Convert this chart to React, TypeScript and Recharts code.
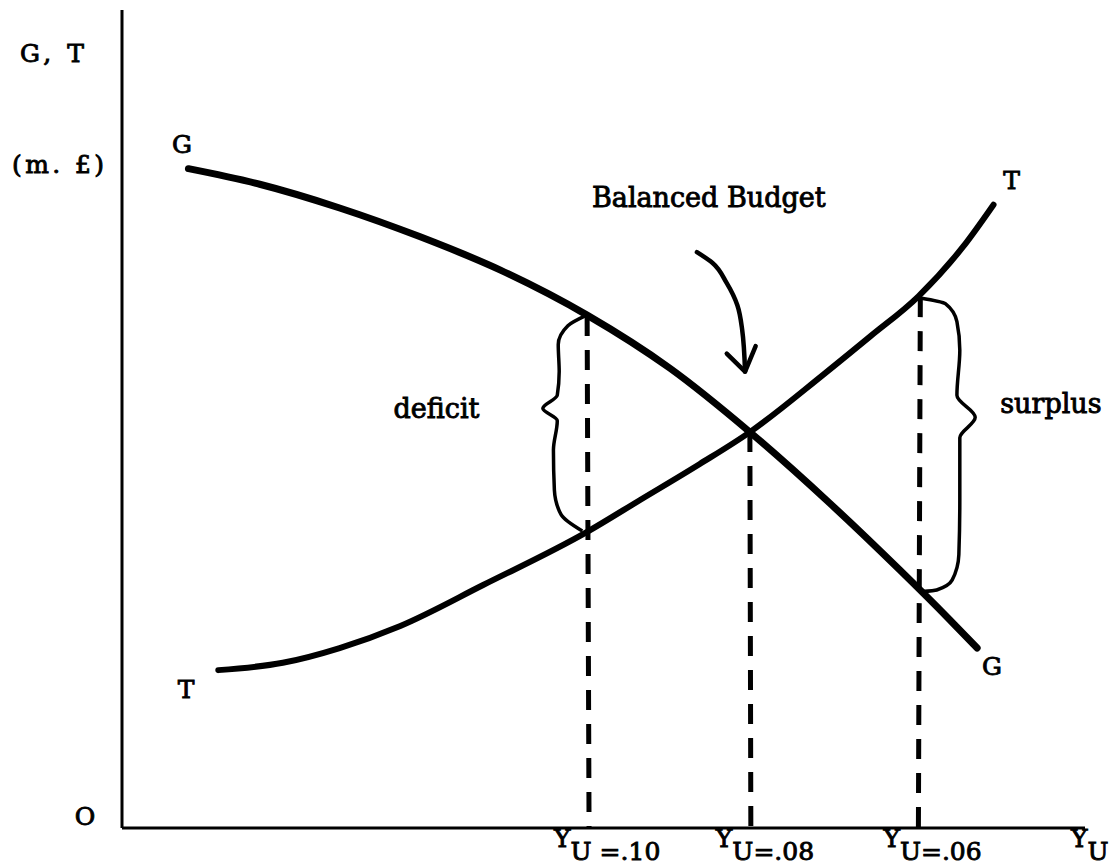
import { ComposedChart, Line, XAxis, YAxis, ReferenceDot } from 'recharts';

const FONT = '"DejaVu Serif", serif';

// G curve: government spending against income (arbitrary units, 0-100)
const gIncome = [6.9, 14.3, 22.6, 30.9, 39.3, 48.3, 56.9, 65.2, 73.5, 80.8, 86.0, 88.8];
const gSpending = [80.6, 78.7, 75.8, 72.3, 68.2, 62.7, 56.2, 48.4, 39.7, 31.5, 25.4, 22.0];

// T curve: tax revenue against income
const tIncome = [10.0, 16.7, 22.6, 28.9, 37.5, 48.3, 53.8, 60.0, 65.2, 72.8, 77.7, 82.7, 87.3, 90.5];
const tRevenue = [19.3, 20.2, 22.0, 24.7, 29.7, 36.2, 40.1, 44.5, 48.4, 55.4, 60.1, 65.0, 71.0, 76.2];

// dashed verticals at the three unemployment rates
const budgetTopX = [48.3, 65.2, 82.9];
const budgetBottomX = [48.5, 65.3, 82.7];
const budgetTopY = [62.6, 48.4, 64.9];
const budgetSubs = ['U =.10', 'U=.08', 'U=.06'];

// braces
const deficitX = [48.1, 46.3, 45.3, 45.4, 45.2, 43.7, 45.2, 44.8, 44.9, 45.6, 47.8];
const deficitY = [62.6, 61.4, 59.1, 55.8, 52.9, 51.3, 49.8, 46.2, 41.3, 38.3, 36.3];
const surplusX = [82.9, 85.5, 86.7, 87.0, 86.7, 88.6, 87.0, 87.0, 86.9, 86.2, 84.6, 83.1];
const surplusY = [64.8, 64.1, 61.9, 58.4, 52.9, 50.2, 47.7, 40.1, 33.4, 30.3, 29.1, 28.9];

// "Balanced Budget" arrow
const arrowX = [59.7, 61.3, 62.8, 63.9, 64.4, 64.7];
const arrowY = [70.4, 69.1, 66.6, 63.9, 60.9, 55.8];
const arrowHeadX = [62.8, 64.7, 65.8];
const arrowHeadY = [58.0, 55.8, 58.9];

const notes = [
  { text: 'G', x: 5.2, y: 82.5, size: 25 },
  { text: 'T', x: 5.8, y: 15.9, size: 25 },
  { text: 'T', x: 91.5, y: 78.1, size: 25 },
  { text: 'G', x: 89.3, y: 18.7, size: 25 },
  { text: 'Balanced Budget', x: 48.8, y: 75.9, size: 27 },
  { text: 'deficit', x: 28.2, y: 50.1, size: 27 },
  { text: 'surplus', x: 91.2, y: 50.7, size: 27 },
];

const pts = (xs: number[], ys: number[]) => xs.map((x, i) => ({ x, y: ys[i] }));

const gData = pts(gIncome, gSpending);
const tData = pts(tIncome, tRevenue);
const budgetLines = budgetTopX.map((x, i) => [
  { x, y: budgetTopY[i] },
  { x: budgetBottomX[i], y: 0 },
]);

const textStyle = { fontFamily: FONT, fill: '#000', stroke: '#000', strokeWidth: 0.9 };

function BudgetTick(props: any) {
  const { x, y, index } = props;
  return (
    <text x={x - 35} y={y + 19} fontSize={25} style={textStyle}>
      <tspan>Y</tspan>
      <tspan dy={13}>{budgetSubs[index]}</tspan>
    </text>
  );
}

function OriginTick(props: any) {
  const { x, y } = props;
  return (
    <text x={x - 37} y={y - 3} fontSize={25} textAnchor="middle" style={textStyle}>
      O
    </text>
  );
}

function AxisEndLabel(props: any) {
  const { viewBox } = props;
  return (
    <text x={viewBox.x + viewBox.width - 14} y={viewBox.y + 19} fontSize={25} style={textStyle}>
      <tspan>Y</tspan>
      <tspan dy={13}>U</tspan>
    </text>
  );
}

function YTitle(props: any) {
  const { viewBox } = props;
  return (
    <g>
      <text x={viewBox.x + 20} y={viewBox.y + 52} fontSize={25} textLength={64} style={textStyle}>
        G, T
      </text>
      <text x={viewBox.x + 12} y={viewBox.y + 163} fontSize={25} textLength={92} style={textStyle}>
        (m. £)
      </text>
    </g>
  );
}

export default function App() {
  const thin = { stroke: '#000', dot: false, activeDot: false, isAnimationActive: false } as const;
  return (
    <div style={{ position: 'absolute', left: 0, top: 0, background: '#fff' }}>
      <ComposedChart width={1112} height={865} margin={{ top: 10, right: 27, bottom: 0, left: 0 }}>
        <XAxis
          type="number"
          dataKey="x"
          domain={[0, 100]}
          ticks={budgetBottomX}
          interval={0}
          tick={<BudgetTick />}
          tickLine={false}
          tickSize={0}
          tickMargin={0}
          height={37}
          axisLine={{ stroke: '#000', strokeWidth: 3 }}
          label={(p: any) => <AxisEndLabel {...p} />}
        />
        <YAxis
          type="number"
          domain={[0, 100]}
          ticks={[0]}
          width={122}
          tick={<OriginTick />}
          tickLine={false}
          tickSize={0}
          tickMargin={0}
          axisLine={{ stroke: '#000', strokeWidth: 3 }}
          label={(p: any) => <YTitle {...p} />}
        />
        {budgetLines.map((d, i) => (
          <Line key={`b${i}`} data={d} dataKey="y" type="linear" strokeWidth={5} strokeDasharray="20 14" {...thin} />
        ))}
        <Line data={gData} dataKey="y" type="monotone" strokeWidth={7} strokeLinecap="round" {...thin} />
        <Line data={tData} dataKey="y" type="monotone" strokeWidth={6} strokeLinecap="round" {...thin} />
        <Line data={pts(deficitX, deficitY)} dataKey="y" type="monotoneY" strokeWidth={3.5} {...thin} />
        <Line data={pts(surplusX, surplusY)} dataKey="y" type="monotoneY" strokeWidth={3.5} {...thin} />
        <Line data={pts(arrowX, arrowY)} dataKey="y" type="monotoneY" strokeWidth={4.5} strokeLinecap="round" {...thin} />
        <Line
          data={pts(arrowHeadX, arrowHeadY)}
          dataKey="y"
          type="linear"
          strokeWidth={4.5}
          strokeLinecap="round"
          strokeLinejoin="round"
          {...thin}
        />
        {notes.map((n, i) => (
          <ReferenceDot
            key={`n${i}`}
            x={n.x}
            y={n.y}
            r={0}
            ifOverflow="visible"
            shape={(p: any) => (
              <text x={p.cx} y={p.cy} fontSize={n.size} style={textStyle}>
                {n.text}
              </text>
            )}
          />
        ))}
      </ComposedChart>
    </div>
  );
}
